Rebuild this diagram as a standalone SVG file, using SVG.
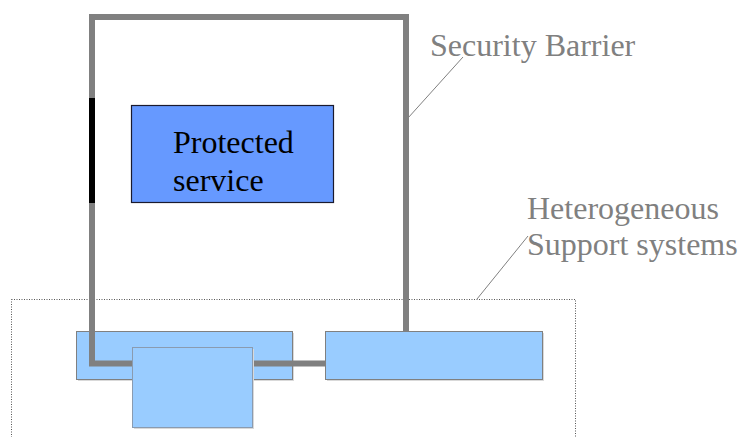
<svg xmlns="http://www.w3.org/2000/svg" width="739" height="437" viewBox="0 0 739 437">
  <style>
    .label { font-family: "Liberation Serif", "Times New Roman", serif; font-size: 32px; }
    .note { fill: #808080; }
    .support { fill: #99ccff; stroke: #808080; stroke-width: 1; }
    .shadow { fill: #d9d9d9; }
    .leader { stroke: #808080; stroke-width: 1; fill: none; }
  </style>

  <rect width="739" height="437" fill="#ffffff"/>

  <!-- dotted outline enclosing the support systems -->
  <g id="support-area">
    <rect x="11.5" y="299.5" width="564" height="160" fill="none" stroke="#555555" stroke-width="1" stroke-dasharray="1,1.5"/>
  </g>

  <!-- support system boxes -->
  <g id="support-left">
    <rect class="shadow" x="78" y="333" width="216" height="48"/>
    <rect class="support" x="76.5" y="331.5" width="216" height="48"/>
  </g>
  <g id="support-right">
    <rect class="shadow" x="327" y="333" width="217" height="48"/>
    <rect class="support" x="325.5" y="331.5" width="217" height="48"/>
  </g>

  <!-- security barrier: thick gray outline with a black gate on its left side -->
  <g id="security-barrier">
    <path d="M325,363.5 H92 V17 H406 V331" fill="none" stroke="#808080" stroke-width="6" stroke-linejoin="miter" stroke-linecap="butt"/>
    <rect x="89" y="98" width="6" height="105" fill="#000000"/>
  </g>

  <g id="support-middle">
    <rect class="shadow" x="134" y="349" width="120" height="80"/>
    <rect x="132.5" y="347.5" width="120" height="80" fill="#99ccff" stroke="#8a9bb0" stroke-width="1"/>
  </g>

  <g id="protected-service">
    <rect x="131.5" y="105.5" width="202" height="97" fill="#6699ff" stroke="#1a1a2e" stroke-width="1.2"/>
    <text class="label" x="173" y="153" fill="#000000">Protected</text>
    <text class="label" x="173" y="191" fill="#000000">service</text>
  </g>

  <g id="label-security-barrier">
    <text class="label note" x="430" y="56">Security Barrier</text>
  </g>

  <g id="label-support-systems">
    <text class="label note" x="527" y="219">Heterogeneous</text>
    <text class="label note" x="527" y="255">Support systems</text>
  </g>

  <!-- leader lines from the labels -->
  <g id="connectors">
    <line class="leader" x1="463" y1="57" x2="408" y2="118"/>
    <line class="leader" x1="528" y1="236" x2="477" y2="299"/>
  </g>
</svg>
